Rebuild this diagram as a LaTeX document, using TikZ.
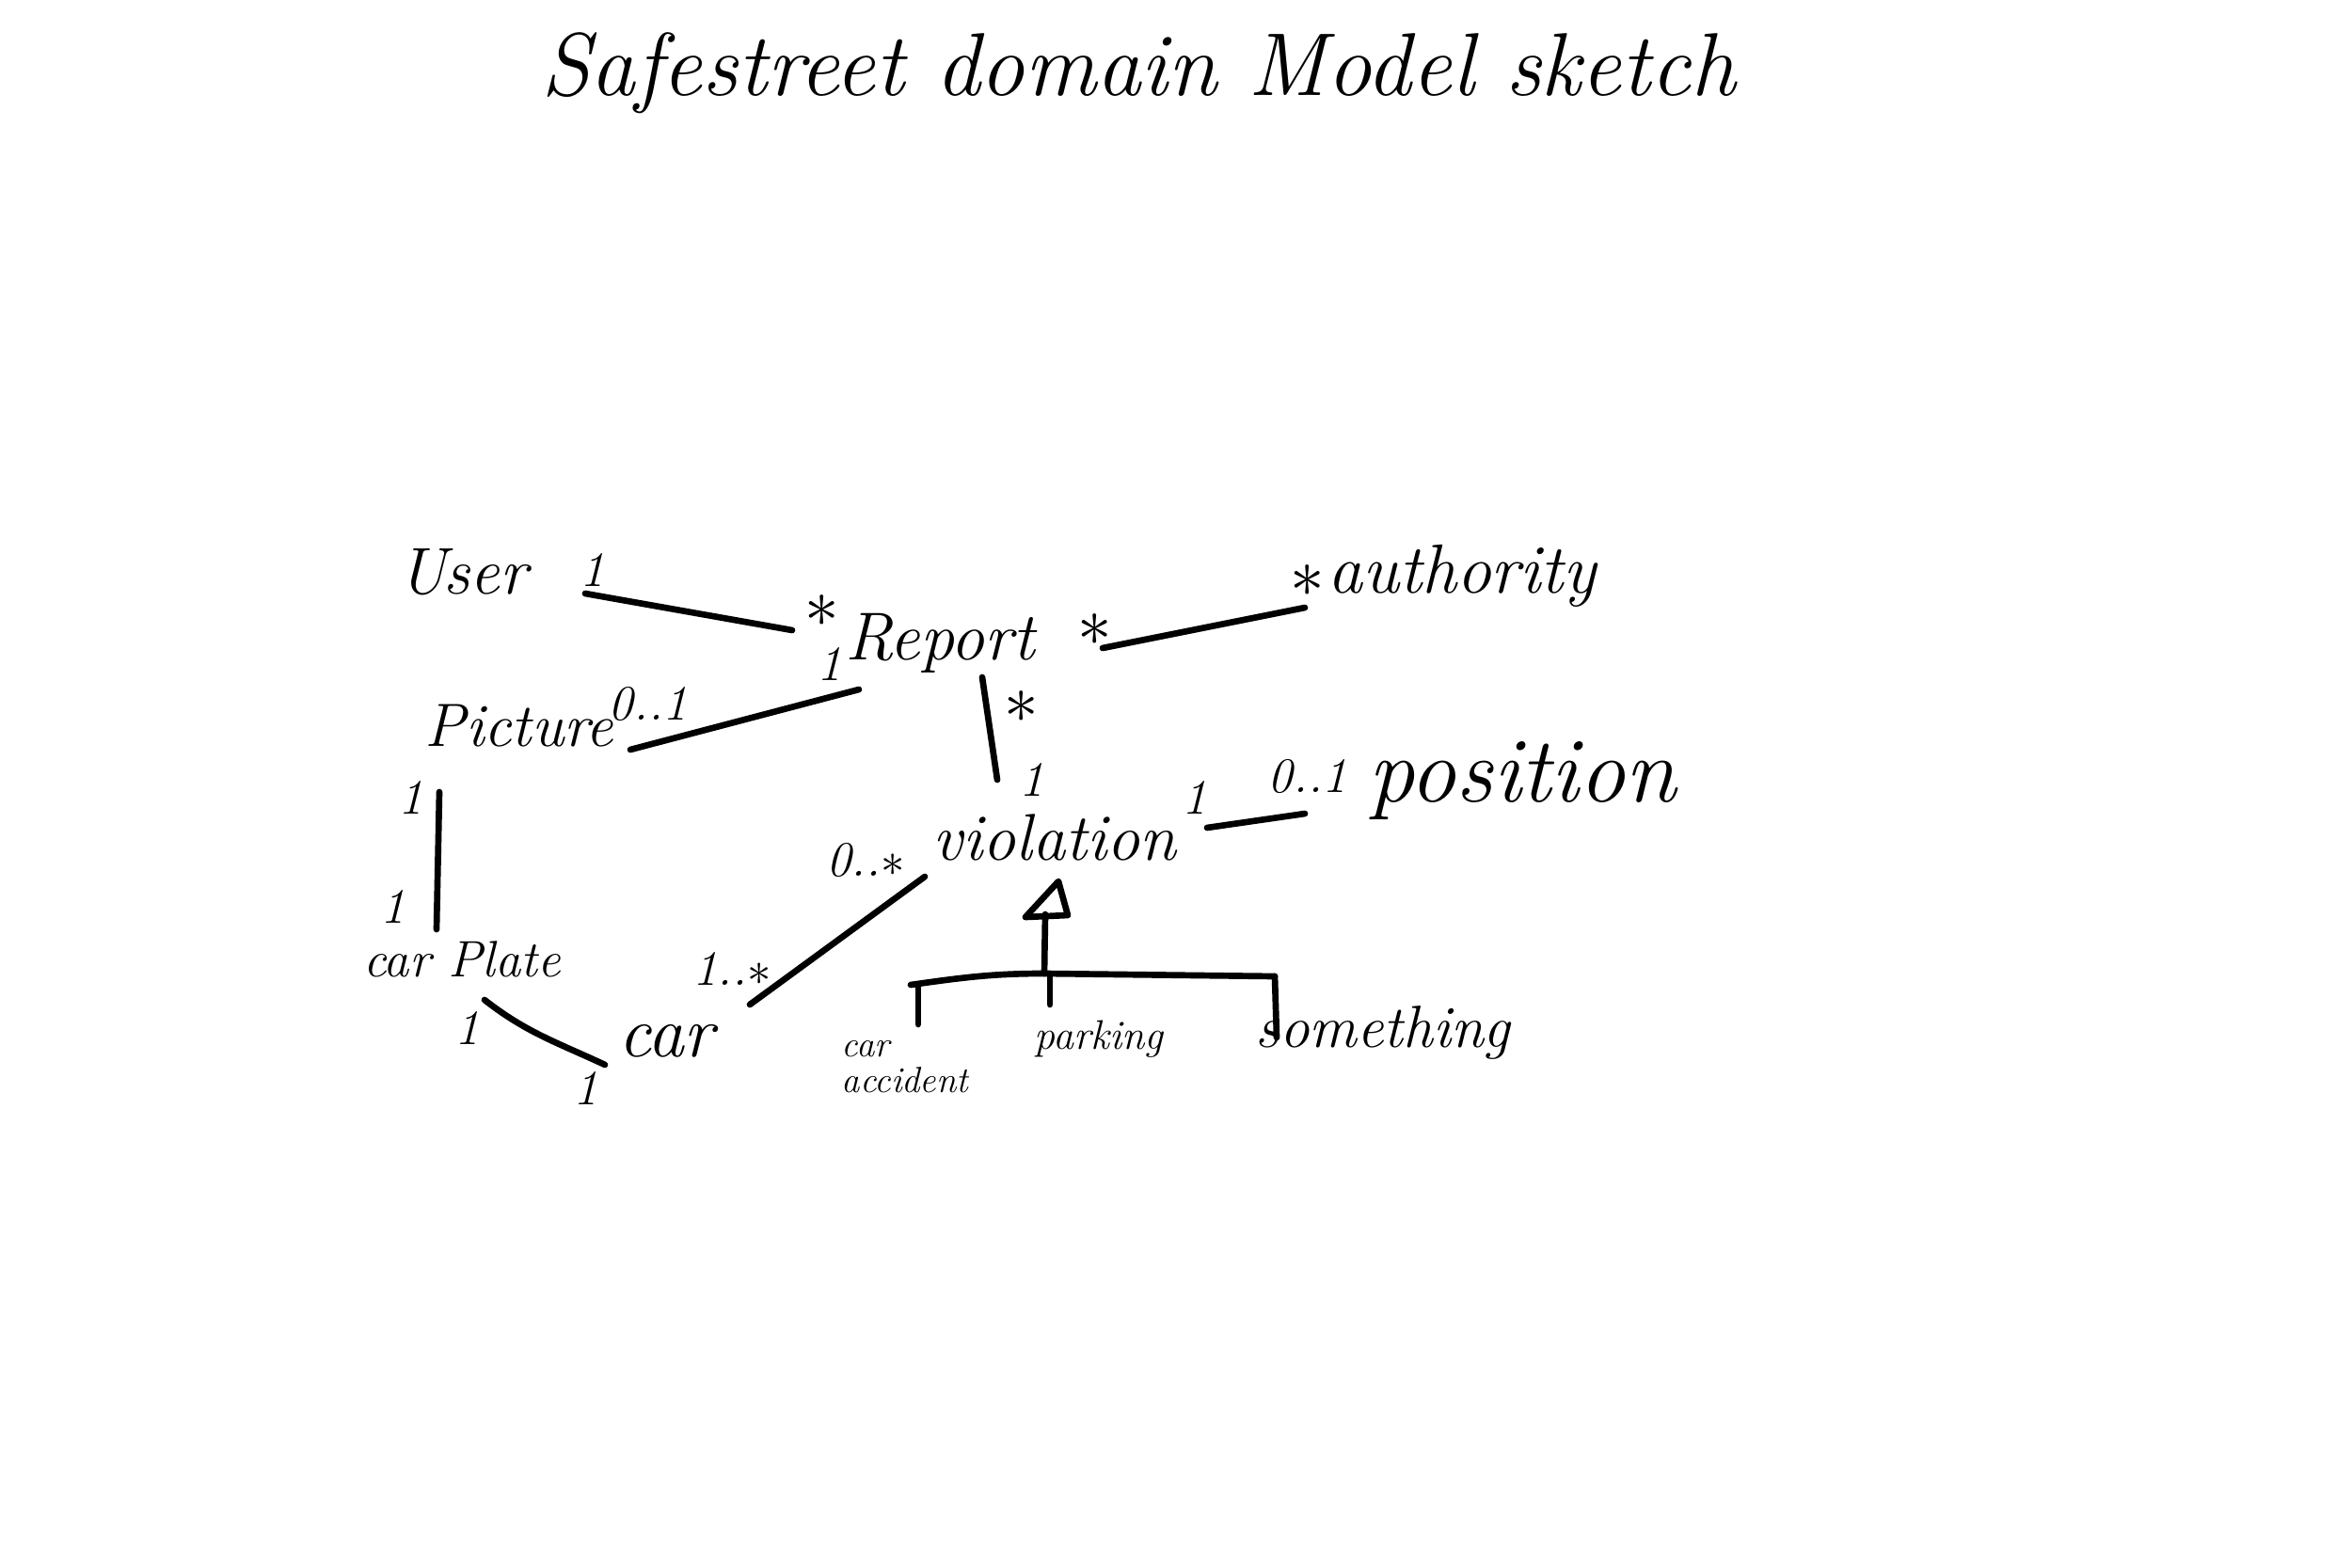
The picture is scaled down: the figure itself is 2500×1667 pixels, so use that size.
\documentclass[tikz,border=0pt]{standalone}
\usepackage{tikz}
\tikzset{
  hand/.style={font=\fontsize{#1}{#1}\selectfont\itshape, inner sep=0pt},
  mult/.style={font=\fontsize{15pt}{15pt}\selectfont\itshape, inner sep=0pt},
  multstar/.style={font=\fontsize{20pt}{20pt}\selectfont, inner sep=0pt},
  conn/.style={line width=1.9pt, line cap=round, line join=round},
}
\begin{document}
\begin{tikzpicture}[x=0.01cm,y=-0.01cm]
\fill[white] (0,0) rectangle (2500,1667);
\useasboundingbox (0,0) rectangle (2500,1667);

% classes
\node[hand=27pt] (title) at (1210,78) {Safestreet domain Model sketch};
\node[hand=20pt] (user) at (492,608) {User};
\node[hand=20.5pt] (report) at (999,684) {Report};
\node[hand=21pt] (auth) at (1554,612) {authority};
\node[hand=18.5pt] (picture) at (552,772) {Picture};
\node[hand=20pt] (viol) at (1121,890) {violation};
\node[hand=28pt] (pos) at (1618,830) {position};
\node[hand=15.5pt] (plate) at (491,1020) {car Plate};
\node[hand=22pt] (car) at (708,1107) {car};
\node[hand=11pt, align=left] (acc) at (962,1134) {car\\accident};
\node[hand=12.5pt] (park) at (1168,1105) {parking};
\node[hand=18pt] (some) at (1470,1098) {something};

% multiplicities
\node[mult] (m1) at (630,606) {1};
\node[multstar] (m2) at (874,650) {$\ast$};
\node[mult] (m3) at (882,706) {1};
\node[multstar] (m4) at (1164,670) {$\ast$};
\node[multstar] (m5) at (1390,618) {$\ast$};
\node[mult] (m6) at (689,749) {0..1};
\node[multstar] (m7) at (1086,752) {$\ast$};
\node[mult] (m8) at (1097,829) {1};
\node[mult] (m9) at (920,915) {0..$\ast$};
\node[mult] (m10) at (778,1030) {1..$\ast$};
\node[mult] (m11) at (437,848) {1};
\node[mult] (m12) at (418,964) {1};
\node[mult] (m13) at (497,1093) {1};
\node[mult] (m14) at (623,1157) {1};
\node[mult] (m15) at (1270,848) {1};
\node[mult] (m16) at (1390,826) {0..1};

% associations
\draw[conn] ([shift={(130,23)}]user.center) -- ([shift={(-157,-14)}]report.center);
\draw[conn] ([shift={(173,5)}]report.center) -- ([shift={(-167,34)}]auth.center);
\draw[conn] ([shift={(118,25)}]picture.center) -- ([shift={(-86,49)}]report.center);
\draw[conn] ([shift={(45,36)}]report.center) -- ([shift={(-61,-61)}]viol.center);
\draw[conn] ([shift={(-138,42)}]viol.center) -- ([shift={(89,-39)}]car.center);
\draw[conn] ([shift={(162,-10)}]viol.center) -- ([shift={(-231,35)}]pos.center);
\draw[conn] ([shift={(-85,70)}]picture.center) -- ([shift={(-27,-32)}]plate.center);
\draw[conn] ([shift={(24,43)}]plate.center) to[out=-38,in=155] ([shift={(-65,25)}]car.center);

% generalization
\coordinate (apex) at ([shift={(4,47)}]viol.center);
\coordinate (barL) at (968,1047);
\coordinate (barM) at (1110,1035);
\coordinate (barR) at (1355,1038);
\draw[conn] (apex) -- ++(-35,38) -- ++(45,-2) -- cycle;
\draw[conn] (barM) -- ([shift={(-14,35)}]apex);
\draw[conn] (barL) to[out=8,in=180] (barM) -- (barR);
\draw[conn] ([shift={(8,3)}]barL) -- ([shift={(14,-45)}]acc.center);
\draw[conn] (1116,1038) -- ([shift={(-52,-37)}]park.center);
\draw[conn] (barR) -- ([shift={(-113,5)}]some.center);
\end{tikzpicture}
\end{document}
